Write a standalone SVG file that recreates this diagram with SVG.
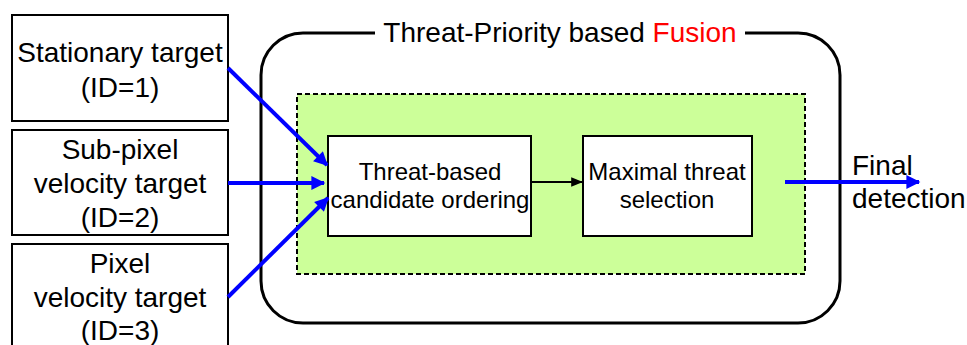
<svg xmlns="http://www.w3.org/2000/svg" width="967" height="345" viewBox="0 0 967 345">
<style>
text{font-family:"Liberation Sans",Arial,sans-serif;fill:#000}
.big{font-size:28px}
.mid{font-size:24px}
.box{fill:#fff;stroke:#000;stroke-width:2}
.blue{stroke:#0000ff;stroke-width:4;fill:none}
</style>
<defs>
<marker id="ab" viewBox="0 0 10 10" refX="9" refY="5" markerWidth="4" markerHeight="3.5" orient="auto" markerUnits="strokeWidth">
<path d="M0,0 L10,5 L0,10 z" fill="#0000ff"/>
</marker>
<marker id="ak" viewBox="0 0 10 10" refX="9" refY="5" markerWidth="6" markerHeight="6" orient="auto" markerUnits="strokeWidth">
<path d="M0,1 L10,5 L0,9 z" fill="#000"/>
</marker>
</defs>
<rect width="967" height="345" fill="#fff"/>
<g id="fusion">
<rect x="261" y="33" width="579" height="290" rx="42" fill="none" stroke="#000" stroke-width="3"/>
<rect x="375" y="20" width="370" height="30" fill="#fff"/>
<text class="big" x="560" y="42" text-anchor="middle">Threat-Priority based <tspan fill="#ff0000">Fusion</tspan></text>
</g>
<g id="green">
<rect x="297" y="94" width="508" height="180" fill="#ccff99" stroke="#000" stroke-width="2" stroke-dasharray="5,3"/>
</g>
<g id="n1">
<rect class="box" x="12" y="15" width="216" height="106"/>
<text class="big" x="120" y="62" text-anchor="middle">Stationary target</text>
<text class="big" x="120" y="97" text-anchor="middle">(ID=1)</text>
</g>
<g id="n2">
<rect class="box" x="12" y="130" width="216" height="105"/>
<text class="big" x="120" y="159" text-anchor="middle">Sub-pixel</text>
<text class="big" x="120" y="193" text-anchor="middle">velocity target</text>
<text class="big" x="120" y="227" text-anchor="middle">(ID=2)</text>
</g>
<g id="n3">
<rect class="box" x="12" y="244" width="216" height="110"/>
<text class="big" x="120" y="273" text-anchor="middle">Pixel</text>
<text class="big" x="120" y="307" text-anchor="middle">velocity target</text>
<text class="big" x="120" y="340" text-anchor="middle">(ID=3)</text>
</g>
<g id="nA">
<rect class="box" x="328" y="136" width="203" height="100"/>
<text class="mid" x="430" y="180" text-anchor="middle">Threat-based</text>
<text class="mid" x="430" y="208" text-anchor="middle">candidate ordering</text>
</g>
<g id="nB">
<rect class="box" x="583" y="136" width="169" height="100"/>
<text class="mid" x="667" y="180" text-anchor="middle">Maximal threat</text>
<text class="mid" x="667" y="208" text-anchor="middle">selection</text>
</g>
<g id="out">
<text class="big" x="852" y="175">Final</text>
<text class="big" x="852" y="208">detection</text>
</g>
<g id="connectors">
<line class="blue" x1="228" y1="68" x2="327" y2="165" marker-end="url(#ab)"/>
<line class="blue" x1="228" y1="183" x2="324" y2="183" marker-end="url(#ab)"/>
<line class="blue" x1="228" y1="297" x2="328" y2="198" marker-end="url(#ab)"/>
<line class="blue" x1="785" y1="182" x2="919" y2="182" marker-end="url(#ab)"/>
<line x1="531" y1="182" x2="582" y2="182" stroke="#000" stroke-width="2" marker-end="url(#ak)"/>
</g>
</svg>
